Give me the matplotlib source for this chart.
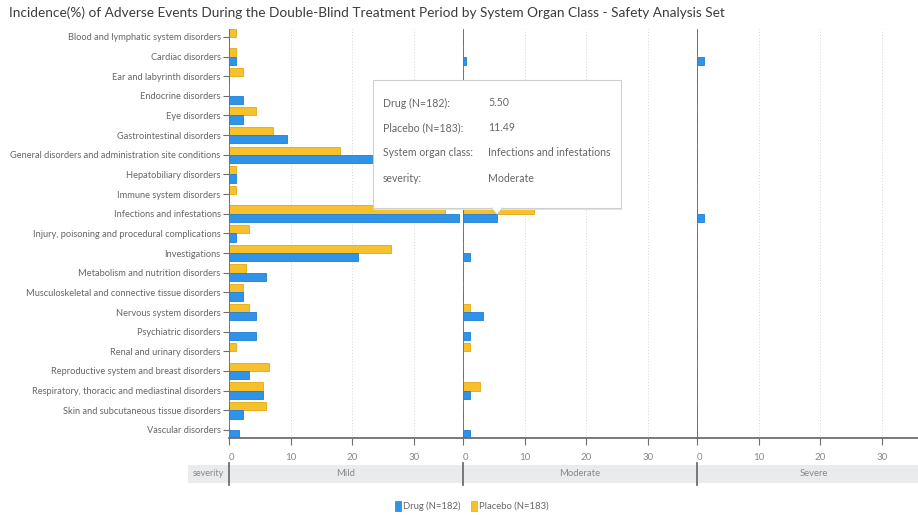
import numpy as np
import matplotlib
matplotlib.use("Agg")
import matplotlib.pyplot as plt
from matplotlib.patches import Polygon, Rectangle

plt.rcParams['font.family'] = ['Lato', 'DejaVu Sans']

# 数据
categories = [
    "Blood and lymphatic system disorders",
    "Cardiac disorders",
    "Ear and labyrinth disorders",
    "Endocrine disorders",
    "Eye disorders",
    "Gastrointestinal disorders",
    "General disorders and administration site conditions",
    "Hepatobiliary disorders",
    "Immune system disorders",
    "Infections and infestations",
    "Injury, poisoning and procedural complications",
    "Investigations",
    "Metabolism and nutrition disorders",
    "Musculoskeletal and connective tissue disorders",
    "Nervous system disorders",
    "Psychiatric disorders",
    "Renal and urinary disorders",
    "Reproductive system and breast disorders",
    "Respiratory, thoracic and mediastinal disorders",
    "Skin and subcutaneous tissue disorders",
    "Vascular disorders",
]
severities = ["Mild", "Moderate", "Severe"]

drug_mild = [0, 1.10, 0, 2.20, 2.20, 9.34, 24.73, 1.10, 0, 37.36, 1.10,
             20.88, 6.04, 2.20, 4.40, 4.40, 0, 3.30, 5.49, 2.20, 1.65]
placebo_mild = [1.09, 1.09, 2.19, 0, 4.37, 7.10, 18.03, 1.09, 1.09, 34.97, 3.28,
                26.23, 2.73, 2.19, 3.28, 0, 1.09, 6.56, 5.46, 6.01, 0]
drug_moderate = [0, 0.55, 0, 0, 0, 0, 0, 0, 0, 5.50, 0,
                 1.10, 0, 0, 3.30, 1.10, 0, 0, 1.10, 0, 1.10]
placebo_moderate = [0, 0, 0, 0, 0, 0, 0, 0, 0, 11.49, 0,
                    0, 0, 0, 1.09, 0, 1.09, 0, 2.73, 0, 0]
drug_severe = [0, 1.10, 0, 0, 0, 0, 0, 0, 0, 1.10, 0,
               0, 0, 0, 0, 0, 0, 0, 0, 0, 0]
placebo_severe = [0] * 21

drug_label = "Drug (N=182)"
placebo_label = "Placebo (N=183)"
xticks = [0, 10, 20, 30]

tip_keys = ["Drug (N=182):", "Placebo (N=183):", "System organ class:", "severity:"]
tip_vals = ["5.50", "11.49", "Infections and infestations", "Moderate"]

BLUE = '#2f93ea'
BLUE_E = '#1e7fd6'
YEL = '#f7c12e'
YEL_E = '#e3a90f'
GRAY_T = '#666666'
AX_C = '#6e6e6e'

W, H = 918, 515
fig = plt.figure(figsize=(W / 100, H / 100), dpi=100)


def fx(px):
    return px / W


def fy(py):
    return 1 - py / H


left0, pw = 229, 234
top, bot = 29, 438
drug_all = [drug_mild, drug_moderate, drug_severe]
plac_all = [placebo_mild, placebo_moderate, placebo_severe]
y = np.arange(len(categories))
bh = 0.42

for i, sev in enumerate(severities):
    ax = fig.add_axes([fx(left0 + i * pw), fy(bot), fx(pw), (bot - top) / H])
    ax.barh(y - bh / 2, plac_all[i], height=bh, color=YEL, edgecolor=YEL_E, linewidth=0.6, zorder=2)
    ax.barh(y + bh / 2, drug_all[i], height=bh, color=BLUE, edgecolor=BLUE_E, linewidth=0.6, zorder=2)
    ax.set_xlim(0, 37.95)
    ax.set_ylim(20.41, -0.4)
    for v in xticks[1:]:
        ax.axvline(v, color='#d5d5d5', lw=0.7, ls=(0, (1, 2)), zorder=1)
    ax.axvline(0, color=AX_C, lw=1.3, zorder=3)
    for s in ['top', 'right', 'left']:
        ax.spines[s].set_visible(False)
    ax.spines['bottom'].set_color(AX_C)
    ax.spines['bottom'].set_linewidth(1.3)
    ax.set_xticks(xticks)
    ax.set_xticklabels([str(t) for t in xticks], fontsize=7, color='#888888')
    ax.tick_params(axis='x', length=5, width=0.8, color=AX_C, pad=6)
    ax.get_xticklabels()[0].set_horizontalalignment('left')
    if i == 0:
        ax.set_yticks(y)
        ax.set_yticklabels(categories, fontsize=6.7, color=GRAY_T)
        ax.tick_params(axis='y', length=4, width=0.8, color=AX_C, pad=2)
    else:
        ax.set_yticks([])

# 严重程度条
strip = fig.add_axes([fx(188), fy(483), fx(W - 188), 18 / H])
strip.set_facecolor('#e9ebed')
strip.set_xlim(188, W)
strip.set_ylim(0, 1)
strip.set_xticks([])
strip.set_yticks([])
for s in strip.spines.values():
    s.set_visible(False)
strip.text((188 + left0) / 2, 0.5, "severity", ha='center', va='center', fontsize=6.5, color='#888888')
for i, sev in enumerate(severities):
    x0 = left0 + i * pw
    strip.plot([x0, x0], [-0.1, 1.1], color=AX_C, lw=1.3, clip_on=False)
    strip.text(x0 + pw / 2, 0.5, sev, ha='center', va='center', fontsize=6.8, color='#888888')

# 标题
fig.text(fx(9), fy(13), "Incidence(%) of Adverse Events During the Double-Blind Treatment Period "
         "by System Organ Class - Safety Analysis Set", ha='left', va='center',
         fontsize=9.8, color='#3c3c3c')

# 图例
lx, ly = 395, 506
fig.patches.append(Rectangle((fx(lx), fy(ly + 5)), fx(6), 10 / H, transform=fig.transFigure,
                             facecolor=BLUE, edgecolor=BLUE_E, lw=0.5))
fig.text(fx(lx + 8), fy(ly), drug_label, ha='left', va='center', fontsize=6.8, color=GRAY_T)
fig.patches.append(Rectangle((fx(471), fy(ly + 5)), fx(6), 10 / H, transform=fig.transFigure,
                             facecolor=YEL, edgecolor=YEL_E, lw=0.5))
fig.text(fx(479), fy(ly), placebo_label, ha='left', va='center', fontsize=6.8, color=GRAY_T)

# 提示框
bx0, by0, bx1, by1 = 373, 80, 621, 208
shadow = Rectangle((fx(bx0 + 1), fy(by1 + 2)), fx(bx1 - bx0), (by1 - by0) / H,
                   transform=fig.transFigure, facecolor='#e4e4e4', edgecolor='none', zorder=9)
box = Rectangle((fx(bx0), fy(by1)), fx(bx1 - bx0), (by1 - by0) / H,
                transform=fig.transFigure, facecolor='white', edgecolor='#cfcfcf', lw=0.8, zorder=10)
fig.patches.extend([shadow, box])
tri = Polygon([(fx(492), fy(by1 - 0.5)), (fx(502), fy(by1 - 0.5)), (fx(497), fy(by1 + 6))],
              closed=True, transform=fig.transFigure, facecolor='white', edgecolor='none', zorder=11)
fig.patches.append(tri)
fig.lines.append(plt.Line2D([fx(492), fx(497), fx(502)], [fy(by1), fy(by1 + 6), fy(by1)],
                            transform=fig.transFigure, color='#cfcfcf', lw=0.8, zorder=11))
tip_y = [103, 128, 153, 178]
for k, v, ty in zip(tip_keys, tip_vals, tip_y):
    fig.text(fx(383), fy(ty), k, ha='left', va='center', fontsize=7.6, color=GRAY_T, zorder=12)
    fig.text(fx(488), fy(ty), v, ha='left', va='center', fontsize=7.6, color=GRAY_T, zorder=12)

fig.savefig('out.png', dpi=100)
